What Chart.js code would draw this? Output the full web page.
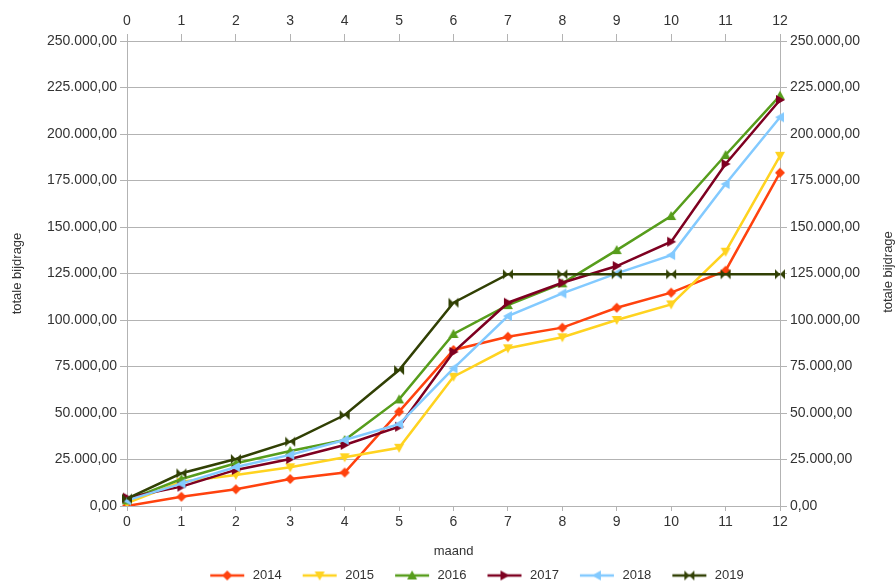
<!DOCTYPE html>
<html>
<head>
<meta charset="utf-8">
<script src="https://cdn.jsdelivr.net/npm/chart.js@4"></script>
<style>
  html, body { margin: 0; padding: 0; background: #fff; }
  #wrap { width: 895px; height: 584px; }
</style>
</head>
<body>
<div id="wrap"><canvas id="chart"></canvas></div>
<script>
// Chart data
const months = ['0', '1', '2', '3', '4', '5', '6', '7', '8', '9', '10', '11', '12'];
const years = ['2014', '2015', '2016', '2017', '2018', '2019'];
const data2014 = [0, 5000, 9000, 14500, 18000, 50700, 83900, 91000, 95900, 106600, 114700, 126500, 179200];
const data2015 = [1500, 13000, 16700, 20800, 26200, 31300, 69500, 84800, 90700, 100000, 108400, 136700, 188300];
const data2016 = [3000, 14500, 23000, 29600, 35500, 57300, 92500, 108000, 119700, 137600, 155900, 188700, 220600];
const data2017 = [4500, 10400, 19400, 25300, 32800, 42600, 82800, 109300, 120000, 129000, 142100, 183900, 218300];
const data2018 = [3000, 12000, 21000, 27500, 35500, 44000, 74000, 102100, 114300, 125100, 134900, 173100, 209000];
const data2019 = [4000, 17600, 25300, 34600, 48900, 73100, 109300, 124600, 124600, 124600, 124600, 124600, 124600];
const yTicks = [0, 25000, 50000, 75000, 100000, 125000, 150000, 175000, 200000, 225000, 250000];

const series = [data2014, data2015, data2016, data2017, data2018, data2019];
const colors = ['#ff420e', '#ffd320', '#579d1c', '#7e0021', '#83caff', '#314004'];
const shapes = ['diamond', 'down', 'up', 'right', 'left', 'bowtie'];

const gridColor = '#b3b3b3';
const textColor = '#333333';

// 250.000,00 style labels
function fmt(v) {
    return Math.round(v).toString().replace(/\B(?=(\d{3})+(?!\d))/g, '.') + ',00';
}

// Marker shape paths, drawn round centre (cx, cy)
function shapePath(ctx, shape, cx, cy, r) {
    ctx.beginPath();
    if (shape === 'diamond') {
        ctx.moveTo(cx, cy - r); ctx.lineTo(cx + r, cy); ctx.lineTo(cx, cy + r); ctx.lineTo(cx - r, cy);
    } else if (shape === 'down') {
        ctx.moveTo(cx - r, cy - r * 0.8); ctx.lineTo(cx + r, cy - r * 0.8); ctx.lineTo(cx, cy + r);
    } else if (shape === 'up') {
        ctx.moveTo(cx, cy - r); ctx.lineTo(cx + r, cy + r * 0.8); ctx.lineTo(cx - r, cy + r * 0.8);
    } else if (shape === 'right') {
        ctx.moveTo(cx - r * 0.8, cy - r); ctx.lineTo(cx + r, cy); ctx.lineTo(cx - r * 0.8, cy + r);
    } else if (shape === 'left') {
        ctx.moveTo(cx + r * 0.8, cy - r); ctx.lineTo(cx - r, cy); ctx.lineTo(cx + r * 0.8, cy + r);
    } else {
        ctx.moveTo(cx - r, cy - r); ctx.lineTo(cx, cy); ctx.lineTo(cx - r, cy + r); ctx.closePath();
        ctx.moveTo(cx + r, cy - r); ctx.lineTo(cx, cy); ctx.lineTo(cx + r, cy + r);
    }
    ctx.closePath();
}

function makeMarker(shape, color) {
    const c = document.createElement('canvas');
    c.width = 12; c.height = 12;
    const ctx = c.getContext('2d');
    ctx.fillStyle = color;
    shapePath(ctx, shape, 6, 6, 5);
    ctx.fill();
    return c;
}

// legend swatch: line with marker, some empty room on the left for spacing
function makeLegendMark(shape, color) {
    const c = document.createElement('canvas');
    c.width = 53; c.height = 12;
    const ctx = c.getContext('2d');
    ctx.strokeStyle = color;
    ctx.lineWidth = 2.5;
    ctx.beginPath(); ctx.moveTo(17, 6); ctx.lineTo(51, 6); ctx.stroke();
    ctx.fillStyle = color;
    shapePath(ctx, shape, 34, 6, 5);
    ctx.fill();
    return c;
}

const datasets = years.map((year, i) => ({
    label: year,
    data: series[i],
    borderColor: colors[i],
    backgroundColor: colors[i],
    borderWidth: 2.5,
    pointStyle: makeMarker(shapes[i], colors[i]),
    legendMark: makeLegendMark(shapes[i], colors[i]),
    pointRadius: 5,
    tension: 0,
    order: years.length - 1 - i,
    xAxisID: 'x',
    yAxisID: 'y'
}));

// right hand title reads bottom to top, like the left one
const rightTitle = {
    id: 'rightTitle',
    afterDraw(chart) {
        const ctx = chart.ctx;
        ctx.save();
        ctx.translate(888, 272);
        ctx.rotate(-Math.PI / 2);
        ctx.font = '13px "Liberation Sans"';
        ctx.fillStyle = textColor;
        ctx.textAlign = 'center';
        ctx.textBaseline = 'middle';
        ctx.fillText('totale bijdrage', 0, 0);
        ctx.restore();
    }
};

// legend sits a little right of centre in the original
const legendShift = {
    id: 'legendShift',
    afterLayout(chart) {
        chart.legend.left += 21;
        chart.legend.right += 21;
    }
};

const tickFont = { family: '"Liberation Sans"', size: 14 };

new Chart(document.getElementById('chart'), {
    type: 'line',
    data: { labels: months, datasets: datasets },
    plugins: [rightTitle, legendShift],
    options: {
        responsive: true,
        maintainAspectRatio: false,
        animation: false,
        layout: { padding: { bottom: -8 } },
        plugins: {
            tooltip: { enabled: false },
            legend: {
                position: 'bottom',
                labels: {
                    usePointStyle: true,
                    pointStyleWidth: 53,
                    padding: 4,
                    color: textColor,
                    font: { family: '"Liberation Sans"', size: 13 },
                    generateLabels(chart) {
                        return chart.data.datasets.map((ds, i) => ({
                            text: ds.label,
                            pointStyle: ds.legendMark,
                            fillStyle: ds.borderColor,
                            strokeStyle: ds.borderColor,
                            lineWidth: 0,
                            fontColor: textColor,
                            hidden: false,
                            datasetIndex: i
                        }));
                    }
                }
            }
        },
        scales: {
            x: {
                type: 'category',
                position: 'bottom',
                offset: false,
                afterFit: s => { s.height = 59; },
                grid: {
                    color: c => (c.index === 0 || c.index === months.length - 1) ? gridColor : 'rgba(0,0,0,0)',
                    tickColor: gridColor,
                    tickLength: 5
                },
                border: { color: gridColor },
                ticks: { color: textColor, font: tickFont, padding: 3, maxRotation: 0 },
                title: {
                    display: true,
                    text: 'maand',
                    color: textColor,
                    font: { family: '"Liberation Sans"', size: 13 },
                    padding: { top: 0, bottom: 6 }
                }
            },
            x2: {
                type: 'category',
                position: 'top',
                labels: months,
                offset: false,
                afterFit: s => { s.height = 41; },
                grid: { drawOnChartArea: false, tickColor: gridColor, tickLength: 7 },
                border: { color: gridColor },
                ticks: { color: textColor, font: tickFont, padding: 4, maxRotation: 0 }
            },
            y: {
                position: 'left',
                min: 0,
                max: 250000,
                afterFit: s => { s.width = 127; },
                afterBuildTicks: s => { s.ticks = yTicks.map(v => ({ value: v })); },
                grid: { color: gridColor, tickColor: gridColor, tickLength: 7 },
                border: { color: gridColor },
                ticks: { color: textColor, font: tickFont, padding: 3, callback: v => fmt(v) },
                title: {
                    display: true,
                    text: 'totale bijdrage',
                    color: textColor,
                    font: { family: '"Liberation Sans"', size: 13 },
                    padding: { top: 10, bottom: 0 }
                }
            },
            y2: {
                position: 'right',
                min: 0,
                max: 250000,
                afterFit: s => { s.width = 115; },
                afterBuildTicks: s => { s.ticks = yTicks.map(v => ({ value: v })); },
                grid: { drawOnChartArea: false, tickColor: gridColor, tickLength: 7 },
                border: { color: gridColor },
                ticks: { color: textColor, font: tickFont, padding: 3, callback: v => fmt(v) }
            }
        }
    }
});
</script>
</body>
</html>
